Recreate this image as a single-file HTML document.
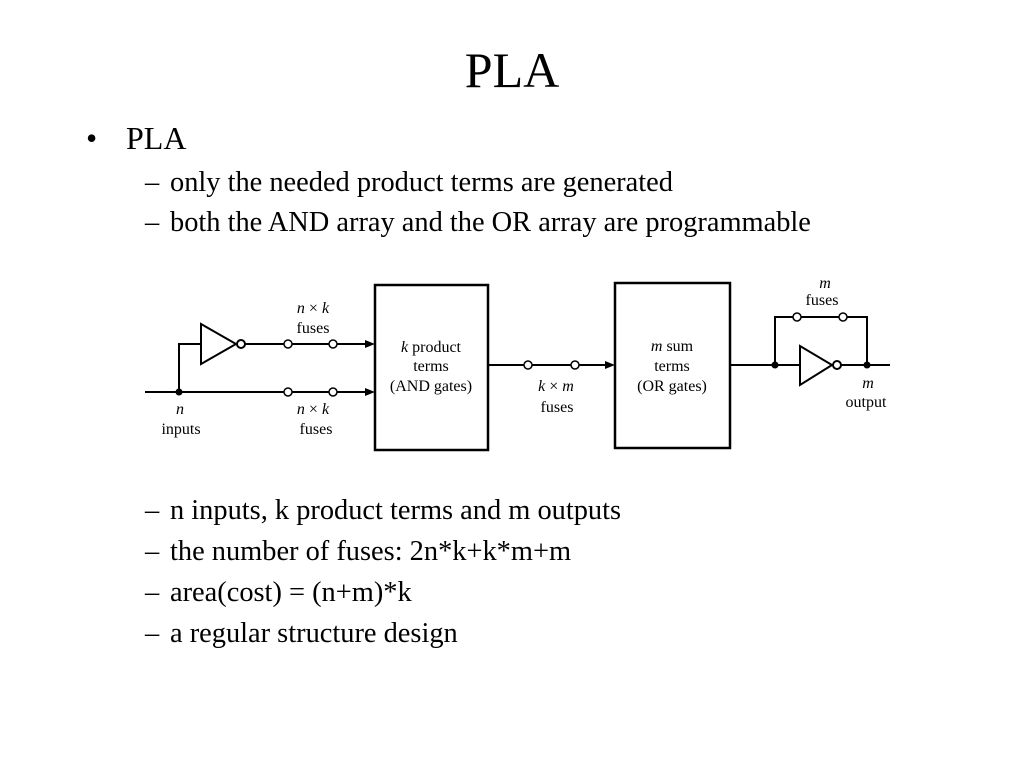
<!DOCTYPE html>
<html><head><meta charset="utf-8"><style>
html,body{margin:0;padding:0;background:#fff;}
svg{display:block;}
text{font-family:"Liberation Serif",serif;fill:#000;}
</style></head><body>
<svg width="1024" height="768" viewBox="0 0 1024 768" xmlns="http://www.w3.org/2000/svg">
<text x="512" y="87" font-size="50" text-anchor="middle">PLA</text>
<text x="86" y="149" font-size="32">•</text>
<text x="126" y="149" font-size="32">PLA</text>
<g font-size="28.4">
<text x="145" y="191">–</text><text x="170" y="191">only the needed product terms are generated</text>
<text x="145" y="231">–</text><text x="170" y="231">both the AND array and the OR array are programmable</text>
<text x="145" y="519">–</text><text x="170" y="519">n inputs, k product terms and m outputs</text>
<text x="145" y="560">–</text><text x="170" y="560">the number of fuses: 2n*k+k*m+m</text>
<text x="145" y="601">–</text><text x="170" y="601">area(cost) = (n+m)*k</text>
<text x="145" y="642">–</text><text x="170" y="642">a regular structure design</text>
</g>
<g stroke="#000" stroke-width="2" fill="none">
<line x1="145" y1="392" x2="368" y2="392"/>
<polyline points="179,392 179,344 201,344"/>
<polygon points="201,324 201,364 236,344" />
<circle cx="241" cy="344" r="4" fill="#fff"/>
<line x1="245" y1="344" x2="368" y2="344"/>
<rect x="375" y="285" width="113" height="165" stroke-width="2.5"/>
<rect x="615" y="283" width="115" height="165" stroke-width="2.5"/>
<line x1="488" y1="365" x2="608" y2="365"/>
<line x1="730" y1="365" x2="800" y2="365"/>
<polyline points="775,365 775,317 867,317 867,365"/>
<polygon points="800,346 800,385 832,365"/>
<circle cx="837" cy="365" r="4" fill="#fff"/>
<line x1="841" y1="365" x2="890" y2="365"/>
</g>
<g fill="#000">
<polygon points="375,344 365,340 365,348"/>
<polygon points="375,392 365,388 365,396"/>
<polygon points="615,365 605,361 605,369"/>
<circle cx="179" cy="392" r="3.5"/>
<circle cx="775" cy="365" r="3.5"/>
<circle cx="867" cy="365" r="3.5"/>
</g>
<g stroke="#000" stroke-width="1.5" fill="#fff">
<circle cx="288" cy="344" r="4"/><circle cx="333" cy="344" r="4"/>
<circle cx="288" cy="392" r="4"/><circle cx="333" cy="392" r="4"/>
<circle cx="528" cy="365" r="4"/><circle cx="575" cy="365" r="4"/>
<circle cx="797" cy="317" r="4"/><circle cx="843" cy="317" r="4"/>
</g>
<g font-size="16" text-anchor="middle">
<text x="313" y="313"><tspan font-style="italic">n</tspan> × <tspan font-style="italic">k</tspan></text>
<text x="313" y="333">fuses</text>
<text x="313" y="414"><tspan font-style="italic">n</tspan> × <tspan font-style="italic">k</tspan></text>
<text x="316" y="434">fuses</text>
<text x="180" y="414" font-style="italic">n</text>
<text x="181" y="434">inputs</text>
<text x="431" y="352"><tspan font-style="italic">k</tspan>  product</text>
<text x="431" y="371">terms</text>
<text x="431" y="391">(AND gates)</text>
<text x="556" y="391"><tspan font-style="italic">k</tspan> × <tspan font-style="italic">m</tspan></text>
<text x="557" y="412">fuses</text>
<text x="672" y="351"><tspan font-style="italic">m</tspan> sum</text>
<text x="672" y="371">terms</text>
<text x="672" y="391">(OR gates)</text>
<text x="825" y="288" font-style="italic">m</text>
<text x="822" y="305">fuses</text>
<text x="868" y="388" font-style="italic">m</text>
<text x="866" y="407">output</text>
</g>
</svg>
</body></html>
